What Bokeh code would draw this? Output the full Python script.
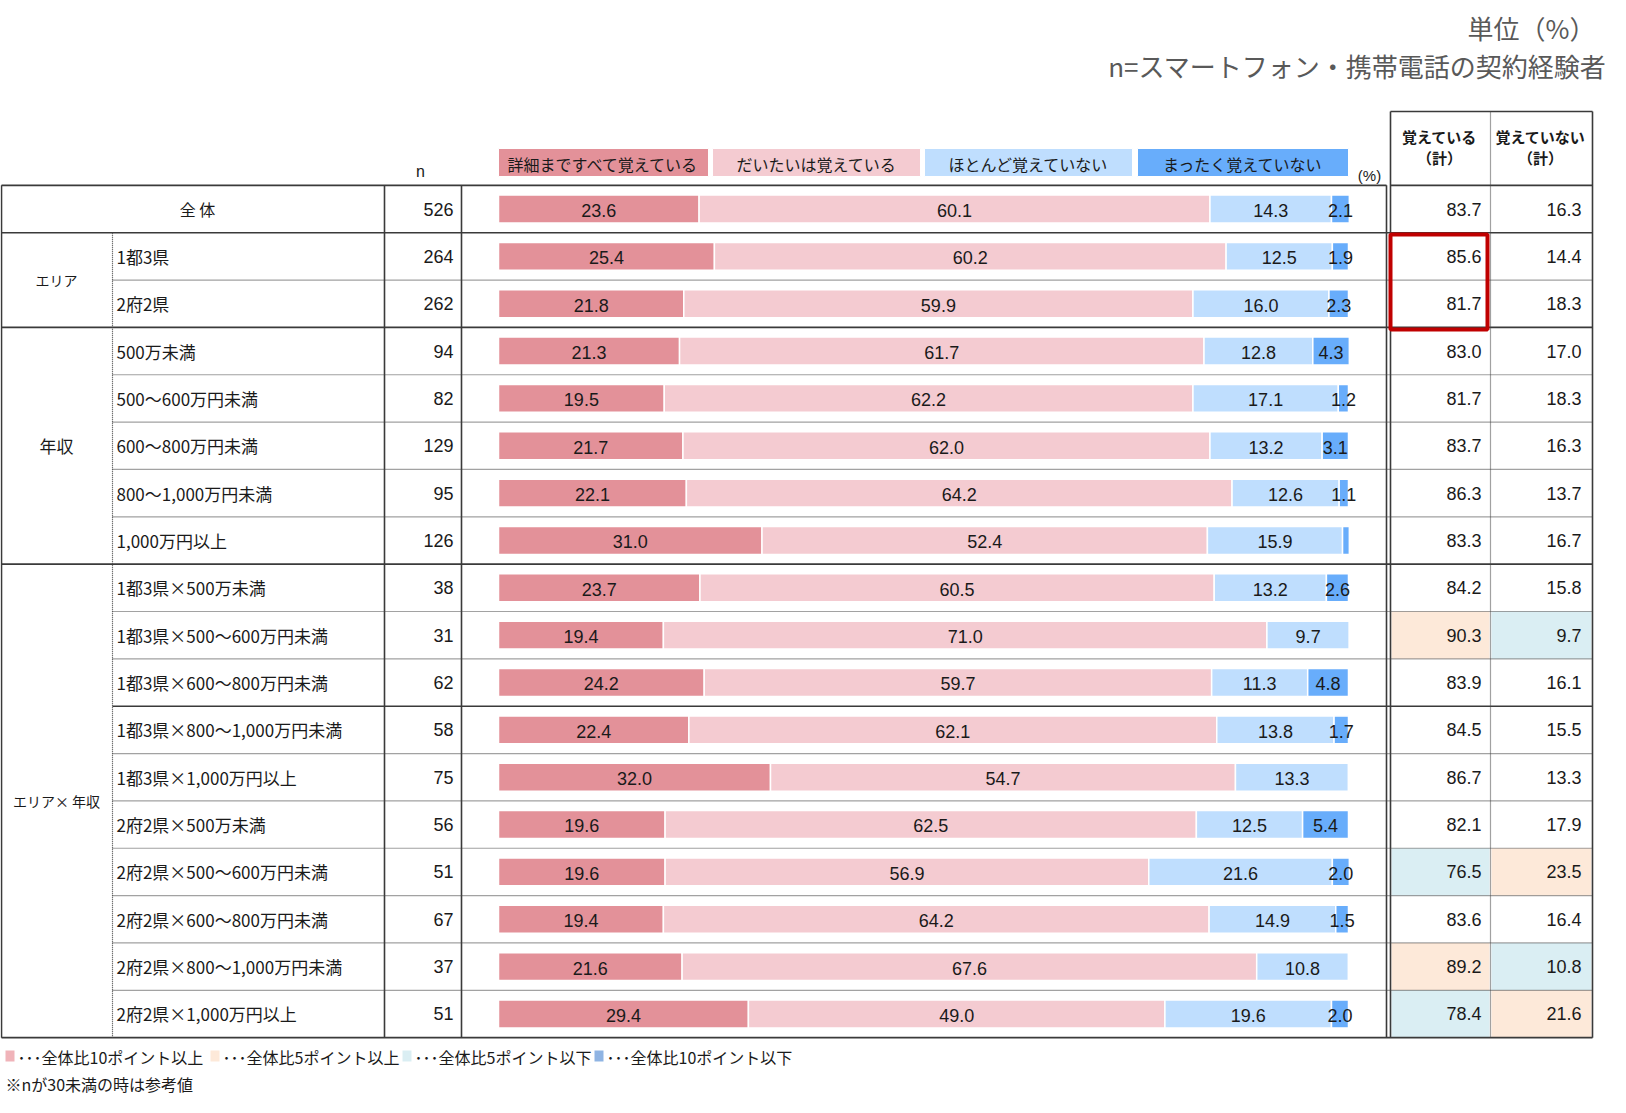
from bokeh.plotting import figure
from bokeh.models import Range1d
from bokeh.core.properties import value
from bokeh.embed import file_html
from bokeh.resources import INLINE
import numpy as np

# ---------------- data ----------------
categories = ["全 体", "1都3県", "2府2県",
              "500万未満", "500～600万円未満", "600～800万円未満", "800～1,000万円未満", "1,000万円以上",
              "1都3県×500万未満", "1都3県×500～600万円未満", "1都3県×600～800万円未満",
              "1都3県×800～1,000万円未満", "1都3県×1,000万円以上",
              "2府2県×500万未満", "2府2県×500～600万円未満", "2府2県×600～800万円未満",
              "2府2県×800～1,000万円未満", "2府2県×1,000万円以上"]
group_labels = ["エリア", "年収", "エリア× 年収"]
group_rows = [(1, 2), (3, 7), (8, 17)]
n_values = [526, 264, 262, 94, 82, 129, 95, 126, 38, 31, 62, 58, 75, 56, 51, 67, 37, 51]

series_names = ["詳細まですべて覚えている", "だいたいは覚えている", "ほとんど覚えていない", "まったく覚えていない"]
s_detail = [23.6, 25.4, 21.8, 21.3, 19.5, 21.7, 22.1, 31.0, 23.7, 19.4, 24.2, 22.4, 32.0, 19.6, 19.6, 19.4, 21.6, 29.4]
s_mostly = [60.1, 60.2, 59.9, 61.7, 62.2, 62.0, 64.2, 52.4, 60.5, 71.0, 59.7, 62.1, 54.7, 62.5, 56.9, 64.2, 67.6, 49.0]
s_hardly = [14.3, 12.5, 16.0, 12.8, 17.1, 13.2, 12.6, 15.9, 13.2, 9.7, 11.3, 13.8, 13.3, 12.5, 21.6, 14.9, 10.8, 19.6]
s_none = [2.1, 1.9, 2.3, 4.3, 1.2, 3.1, 1.1, 0.8, 2.6, 0.0, 4.8, 1.7, 0.0, 5.4, 2.0, 1.5, 0.0, 2.0]

remember_total = [83.7, 85.6, 81.7, 83.0, 81.7, 83.7, 86.3, 83.3, 84.2, 90.3, 83.9, 84.5, 86.7, 82.1, 76.5, 83.6, 89.2, 78.4]
not_remember_total = [16.3, 14.4, 18.3, 17.0, 18.3, 16.3, 13.7, 16.7, 15.8, 9.7, 16.1, 15.5, 13.3, 17.9, 23.5, 16.4, 10.8, 21.6]
# highlight codes: "" none, "up5" = +5pt or more, "down5" = -5pt or more
hl_remember = ["", "", "", "", "", "", "", "", "", "up5", "", "", "", "", "down5", "", "up5", "down5"]
hl_not_remember = ["", "", "", "", "", "", "", "", "", "down5", "", "", "", "", "up5", "", "down5", "up5"]

legend_notes = ["･･･全体比10ポイント以上", "･･･全体比5ポイント以上", "･･･全体比5ポイント以下", "･･･全体比10ポイント以下"]
header_right = [("覚えている", "（計）"), ("覚えていない", "（計）")]

# ---------------- styles ----------------
series_colors = ["#e39199", "#f4cbd1", "#bfdefe", "#68adfb"]
note_colors = ["#f0b3b9", "#fde9d9", "#daeef3", "#8fb4e3"]
hl_colors = {"up5": "#fde9d9", "down5": "#daeef3"}
JP = value("Noto Sans CJK JP")
NUM = value("Liberation Sans")
TXT = "#1a1a1a"
LINE = "#3a3a3a"

W, H = 1610, 1097
PX_PER_PCT = 8.5
ZERO_PX = 498.0
ROW0_PX = 208.5
ROW_PX = 47.35


def X(ref):
    return (ref - ZERO_PX) / PX_PER_PCT


def Y(ref):
    return (ref - ROW0_PX) / ROW_PX


p = figure(width=W, height=H, x_range=Range1d(X(0), X(W)), y_range=Range1d(Y(H), Y(0)),
           output_backend="svg", toolbar_location=None, min_border=0)
p.axis.visible = False
p.grid.visible = False
p.outline_line_color = None
p.background_fill_color = "white"
p.border_fill_color = "white"

rows = np.arange(len(categories))

# highlighted cells in right table
for codes, x0, x1 in [(hl_remember, 1391, 1489), (hl_not_remember, 1491, 1591)]:
    for i, c in enumerate(codes):
        if c:
            p.quad(left=X(x0), right=X(x1), bottom=i + 0.5, top=i - 0.5, fill_color=hl_colors[c], line_color=None)

# ---------------- stacked bars ----------------
series = [np.array(s_detail), np.array(s_mostly), np.array(s_hardly), np.array(s_none)]
left = np.zeros(len(categories))
for vals, col in zip(series, series_colors):
    right = left + vals
    p.hbar(y=rows, left=left, right=right, height=0.59, fill_color=col, line_color="white", line_width=1.5)
    mask = vals >= 1.0
    p.text(x=((left + right) / 2)[mask], y=rows[mask] + 0.03, text=[f"{v:.1f}" for v in vals[mask]],
           text_align="center", text_baseline="middle", text_font=NUM, text_font_size="18px", text_color=TXT)
    left = right

# ---------------- header legend boxes ----------------
box_edges = [(498, 708), (712, 920), (924, 1132), (1137, 1348)]
for (a, b), col, name in zip(box_edges, series_colors, series_names):
    p.quad(left=X(a), right=X(b), top=Y(148), bottom=Y(176), fill_color=col, line_color="white", line_width=1)
    p.text(x=[X((a + b) / 2)], y=[Y(163)], text=[name], text_align="center", text_baseline="middle",
           text_font=JP, text_font_size="16px", text_color=TXT)
p.text(x=[X(1369)], y=[Y(175)], text=["(%)"], text_align="center", text_baseline="middle",
       text_font=NUM, text_font_size="15px", text_color=TXT)
p.text(x=[X(420)], y=[Y(171)], text=["n"], text_align="center", text_baseline="middle",
       text_font=NUM, text_font_size="16px", text_color=TXT)

for (l1, l2), cx in zip(header_right, [1439, 1540]):
    p.text(x=[X(cx)], y=[Y(136)], text=[l1], text_align="center", text_baseline="middle",
           text_font=JP, text_font_size="15px", text_font_style="bold", text_color=TXT)
    p.text(x=[X(cx)], y=[Y(157)], text=[l2], text_align="center", text_baseline="middle",
           text_font=JP, text_font_size="15px", text_font_style="bold", text_color=TXT)

# title
p.text(x=[X(1595)], y=[Y(27)], text=["単位（%）"], text_align="right", text_baseline="middle",
       text_font=JP, text_font_size="26px", text_color="#595959")
p.text(x=[X(1606)], y=[Y(65)], text=["n=スマートフォン・携帯電話の契約経験者"], text_align="right",
       text_baseline="middle", text_font=JP, text_font_size="26px", text_color="#595959")

# ---------------- table texts ----------------
p.text(x=[X(197)], y=[0.0], text=[categories[0]], text_align="center", text_baseline="middle",
       text_font=JP, text_font_size="16px", text_color=TXT)
p.text(x=[X(116)] * (len(categories) - 1), y=rows[1:], text=categories[1:], text_align="left",
       text_baseline="middle", text_font=JP, text_font_size="17px", text_color=TXT)
for g, (r0, r1), fs in zip(group_labels, group_rows, ["14px", "17px", "14px"]):
    p.text(x=[X(56)], y=[(r0 + r1) / 2], text=[g], text_align="center", text_baseline="middle",
           text_font=JP, text_font_size=fs, text_color=TXT)
p.text(x=[X(453)] * len(rows), y=rows, text=[str(v) for v in n_values], text_align="right",
       text_baseline="middle", text_font=NUM, text_font_size="18px", text_color=TXT)
p.text(x=[X(1481)] * len(rows), y=rows, text=[f"{v:.1f}" for v in remember_total], text_align="right",
       text_baseline="middle", text_font=NUM, text_font_size="18px", text_color=TXT)
p.text(x=[X(1581)] * len(rows), y=rows, text=[f"{v:.1f}" for v in not_remember_total], text_align="right",
       text_baseline="middle", text_font=NUM, text_font_size="18px", text_color=TXT)

# ---------------- grid lines ----------------
top, bot = -0.5, len(categories) - 0.5
rt_top = Y(111)
solid = []  # (x0, y0, x1, y1) with x in ref px
solid += [(1, top, 1, bot), (384, top, 384, bot), (461, top, 461, bot), (1386, top, 1386, bot),
          (1390, rt_top, 1390, bot), (1592, rt_top, 1592, bot)]
solid += [(1, top, 1386, top), (1390, top, 1592, top), (1390, rt_top, 1592, rt_top)]
for b in [0.5, 2.5, 7.5, bot]:
    solid.append((1, b, 1592, b))
solid.append((112, 10.5, 1592, 10.5))
dotted = [(112, 0.5, 112, bot), (1490, rt_top, 1490, bot)]
for b in [1.5, 3.5, 4.5, 5.5, 6.5, 8.5, 9.5, 11.5, 12.5, 13.5, 14.5, 15.5, 16.5]:
    dotted.append((112, b, 1592, b))

p.segment(x0=[X(s[0]) for s in solid], y0=[s[1] for s in solid], x1=[X(s[2]) for s in solid],
          y1=[s[3] for s in solid], line_color=LINE, line_width=1.6)
p.segment(x0=[X(s[0]) for s in dotted], y0=[s[1] for s in dotted], x1=[X(s[2]) for s in dotted],
          y1=[s[3] for s in dotted], line_color="#444444", line_width=1.2, line_dash="1 1")

# red emphasis box
p.quad(left=X(1390), right=X(1487), top=Y(234), bottom=Y(329), fill_color=None,
       line_color="#c00000", line_width=4)

# ---------------- footnotes ----------------
note_x = [5, 210, 402, 594]
for xx, col, txt in zip(note_x, note_colors, legend_notes):
    p.quad(left=X(xx), right=X(xx + 9), top=Y(1050), bottom=Y(1061), fill_color=col, line_color=None)
    p.text(x=[X(xx + 12)], y=[Y(1056)], text=[txt], text_align="left", text_baseline="middle",
           text_font=JP, text_font_size="16px", text_color=TXT)
p.text(x=[X(5)], y=[Y(1083)], text=["※nが30未満の時は参考値"], text_align="left", text_baseline="middle",
       text_font=JP, text_font_size="16px", text_color=TXT)

open("out.html", "w").write(file_html(p, INLINE))
